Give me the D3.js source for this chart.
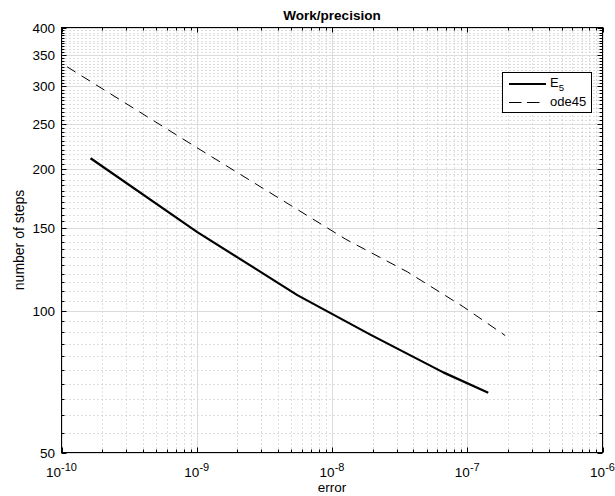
<!DOCTYPE html>
<html>
<head>
<meta charset="utf-8">
<script src="https://cdn.jsdelivr.net/npm/d3@7"></script>
<style>
  body { margin: 0; background: #fff; }
  text { font-family: "Liberation Sans", Arial, Helvetica, sans-serif; }
</style>
</head>
<body>
<div id="chart"></div>
<script>
// E5 (solid) - error vs number of steps
var e5Error = [1.64e-10, 1.01e-9, 5.54e-9, 1.92e-8, 6.65e-8, 1.43e-7];
var e5Steps = [211, 147, 108, 89, 74, 67];

// ode45 (dashed)
var odeError = [1.10e-10, 1.06e-9, 1.26e-8, 3.61e-8, 9.35e-8, 1.91e-7];
var odeSteps = [330, 220, 142, 121, 102, 88.6];

var xTicks = [1e-10, 1e-9, 1e-8, 1e-7, 1e-6];
var xTickExp = ["-10", "-9", "-8", "-7", "-6"];
var yTicks = [50, 100, 150, 200, 250, 300, 350, 400];

var width = 615, height = 496;
// plot box (note: "top" is a reserved window prop, so use p* names)
var pLeft = 61.5, pRight = 602.5, pTop = 27.5, pBottom = 452.5;

var svg = d3.select('#chart')
    .append('svg')
    .attr('width', width)
    .attr('height', height);

var x = d3.scaleLog().domain([1e-10, 1e-6]).range([pLeft, pRight]);
var y = d3.scaleLog().domain([50, 400]).range([pBottom, pTop]);

// minor ticks
var xMinor = [];
for (var e = -10; e < -6; e++) {
    for (var m = 2; m <= 9; m++) xMinor.push(m * Math.pow(10, e));
}
var yMinor = [];
for (var v = 55; v < 400; v += 5) {
    if (v % 50 !== 0) yMinor.push(v);
}

var grid = svg.append('g');

// minor grid (dotted)
grid.selectAll('.xminor')
    .data(xMinor)
    .enter().append('line')
    .attr('x1', function(d) { return Math.round(x(d)) + 0.5; })
    .attr('x2', function(d) { return Math.round(x(d)) + 0.5; })
    .attr('y1', pTop).attr('y2', pBottom)
    .attr('stroke', '#bdbdbd')
    .attr('stroke-width', 1)
    .attr('stroke-dasharray', '1,3');

grid.selectAll('.yminor')
    .data(yMinor)
    .enter().append('line')
    .attr('y1', function(d) { return Math.round(y(d)) + 0.5; })
    .attr('y2', function(d) { return Math.round(y(d)) + 0.5; })
    .attr('x1', pLeft).attr('x2', pRight)
    .attr('stroke', '#bdbdbd')
    .attr('stroke-width', 1)
    .attr('stroke-dasharray', '1,3');

// major grid
grid.selectAll('.xmajor')
    .data(xTicks)
    .enter().append('line')
    .attr('x1', function(d) { return Math.round(x(d)) + 0.5; })
    .attr('x2', function(d) { return Math.round(x(d)) + 0.5; })
    .attr('y1', pTop).attr('y2', pBottom)
    .attr('stroke', '#dcdcdc')
    .attr('stroke-width', 1);

grid.selectAll('.ymajor')
    .data(yTicks)
    .enter().append('line')
    .attr('y1', function(d) { return Math.round(y(d)) + 0.5; })
    .attr('y2', function(d) { return Math.round(y(d)) + 0.5; })
    .attr('x1', pLeft).attr('x2', pRight)
    .attr('stroke', '#dcdcdc')
    .attr('stroke-width', 1);

// ticks (inward, on all four sides)
var ticks = svg.append('g').attr('stroke', '#000').attr('stroke-width', 1);
function xTickMarks(vals, len) {
    vals.forEach(function(d) {
        var px = Math.round(x(d)) + 0.5;
        ticks.append('line').attr('x1', px).attr('x2', px).attr('y1', pBottom).attr('y2', pBottom - len);
        ticks.append('line').attr('x1', px).attr('x2', px).attr('y1', pTop).attr('y2', pTop + len);
    });
}
function yTickMarks(vals, len) {
    vals.forEach(function(d) {
        var py = Math.round(y(d)) + 0.5;
        ticks.append('line').attr('y1', py).attr('y2', py).attr('x1', pLeft).attr('x2', pLeft + len);
        ticks.append('line').attr('y1', py).attr('y2', py).attr('x1', pRight).attr('x2', pRight - len);
    });
}
xTickMarks(xTicks, 5);
xTickMarks(xMinor, 3);
yTickMarks(yTicks, 5);
yTickMarks(yMinor, 3);

// box
svg.append('rect')
    .attr('x', pLeft).attr('y', pTop)
    .attr('width', pRight - pLeft).attr('height', pBottom - pTop)
    .attr('fill', 'none')
    .attr('stroke', '#000')
    .attr('stroke-width', 1);

// tick labels
var xl = svg.append('g').selectAll('text')
    .data(xTicks)
    .enter().append('text')
    .attr('x', function(d) { return x(d); })
    .attr('y', 477)
    .attr('text-anchor', 'middle')
    .attr('font-size', '13.5px');
xl.append('tspan').text('10');
xl.append('tspan')
    .attr('dy', -6)
    .attr('font-size', '11px')
    .text(function(d, i) { return xTickExp[i]; });

svg.append('g').selectAll('text')
    .data(yTicks)
    .enter().append('text')
    .attr('x', 55)
    .attr('y', function(d) { return y(d) + 5; })
    .attr('text-anchor', 'end')
    .attr('font-size', '13.5px')
    .text(function(d) { return d; });

// lines
var line = d3.line()
    .x(function(d) { return x(d[0]); })
    .y(function(d) { return y(d[1]); });

svg.append('path')
    .datum(d3.zip(odeError, odeSteps))
    .attr('d', line)
    .attr('fill', 'none')
    .attr('stroke', '#000')
    .attr('stroke-width', 1)
    .attr('stroke-dasharray', '10,7');

svg.append('path')
    .datum(d3.zip(e5Error, e5Steps))
    .attr('d', line)
    .attr('fill', 'none')
    .attr('stroke', '#000')
    .attr('stroke-width', 2.2)
    .attr('stroke-linejoin', 'round');

// title and axis labels
svg.append('text')
    .attr('x', (pLeft + pRight) / 2)
    .attr('y', 20)
    .attr('text-anchor', 'middle')
    .attr('font-size', '13.5px')
    .attr('font-weight', 'bold')
    .text('Work/precision');

svg.append('text')
    .attr('x', (pLeft + pRight) / 2)
    .attr('y', 492)
    .attr('text-anchor', 'middle')
    .attr('font-size', '13.5px')
    .text('error');

svg.append('text')
    .attr('transform', 'translate(24,' + (pTop + pBottom) / 2 + ') rotate(-90)')
    .attr('text-anchor', 'middle')
    .attr('font-size', '14px')
    .text('number of steps');

// legend
var lg = svg.append('g');
lg.append('rect')
    .attr('x', 502.5).attr('y', 72.5)
    .attr('width', 89).attr('height', 40)
    .attr('fill', '#fff')
    .attr('stroke', '#000')
    .attr('stroke-width', 1);
lg.append('line')
    .attr('x1', 509).attr('x2', 546).attr('y1', 84).attr('y2', 84)
    .attr('stroke', '#000').attr('stroke-width', 2.2);
lg.append('line')
    .attr('x1', 509).attr('x2', 540.5).attr('y1', 102.5).attr('y2', 102.5)
    .attr('stroke', '#000').attr('stroke-width', 1)
    .attr('stroke-dasharray', '12.5,5.5');
var e5Label = lg.append('text')
    .attr('x', 550).attr('y', 87)
    .attr('font-size', '13px');
e5Label.append('tspan').text('E');
e5Label.append('tspan').attr('dy', 4).attr('font-size', '9.5px').text('5');
lg.append('text')
    .attr('x', 550).attr('y', 106)
    .attr('font-size', '13px')
    .text('ode45');
</script>
</body>
</html>
